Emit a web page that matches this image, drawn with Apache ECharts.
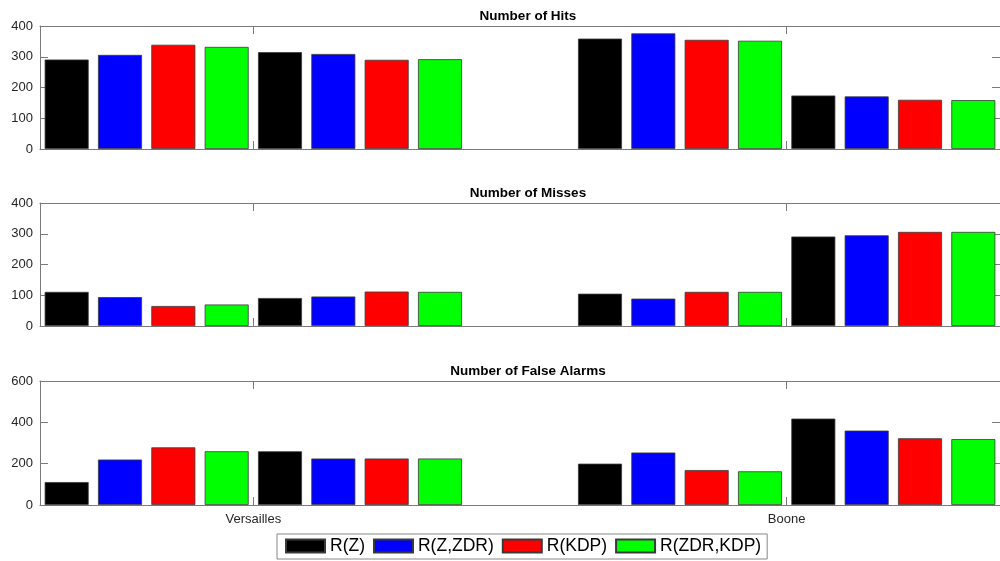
<!DOCTYPE html>
<html>
<head>
<meta charset="utf-8">
<script src="https://cdn.jsdelivr.net/npm/echarts@6/dist/echarts.min.js"></script>
<style>
  html, body { margin: 0; padding: 0; background: #fff; }
  #chart { width: 1000px; height: 561px; }
</style>
</head>
<body>
<div id="chart"></div>
<script>
// Sites shown on the x axis and where their labels sit (slot units)
const sites = ['Versailles', 'Boone'];
const siteTicks = [3.5, 13.5];
// First slot of each block of four bars (two blocks per site)
const blockStarts = [0, 4, 10, 14];

const methods = ['R(Z)', 'R(Z,ZDR)', 'R(KDP)', 'R(ZDR,KDP)'];
const colors = ['#000000', '#0000ff', '#ff0000', '#00ff00'];

const panelTitles = ['Number of Hits', 'Number of Misses', 'Number of False Alarms'];

// Values per method, one entry per block
const hitsRZ = [291, 315, 359, 174];
const hitsRZZDR = [306, 309, 376, 171];
const hitsRKDP = [339, 290, 355, 160];
const hitsRZDRKDP = [332, 292, 352, 159];

const missesRZ = [111, 91, 105, 291];
const missesRZZDR = [94, 96, 89, 295];
const missesRKDP = [65, 112, 111, 306];
const missesRZDRKDP = [70, 111, 111, 306];

const falseRZ = [111, 260, 200, 418];
const falseRZZDR = [220, 225, 254, 360];
const falseRKDP = [279, 225, 169, 323];
const falseRZDRKDP = [260, 225, 163, 319];

const yMax = [400, 400, 600];
const yStep = [100, 100, 200];

const panelValues = [
  [hitsRZ, hitsRZZDR, hitsRKDP, hitsRZDRKDP],
  [missesRZ, missesRZZDR, missesRKDP, missesRZDRKDP],
  [falseRZ, falseRZZDR, falseRKDP, falseRZDRKDP]
];

const FONT = '"Liberation Sans", Arial, Helvetica, sans-serif';
const AXIS_COLOR = '#7a7a7a';
const TEXT_COLOR = '#262626';

// Plot boxes
const boxes = [
  { top: 26, height: 123 },
  { top: 203, height: 123 },
  { top: 381, height: 124 }
];

const grid = [], xAxis = [], yAxis = [], series = [], title = [];

boxes.forEach((b, p) => {
  grid.push({ left: 40, width: 967, top: b.top, height: b.height });

  title.push({
    text: panelTitles[p],
    left: 523, top: b.top - 22, textAlign: 'center',
    textStyle: { fontFamily: FONT, fontSize: 13.5, fontWeight: 'bold', color: '#000' }
  });

  const tickCommon = { show: true, inside: true, length: 8, lineStyle: { color: AXIS_COLOR } };
  const lineCommon = { show: true, onZero: false, lineStyle: { color: AXIS_COLOR } };

  // bottom x axis
  xAxis.push({
    type: 'value', gridIndex: p, min: -0.5, max: 17.5, position: 'bottom',
    axisLine: lineCommon,
    axisTick: Object.assign({ customValues: siteTicks }, tickCommon),
    axisLabel: {
      show: p === 2, customValues: siteTicks, margin: 8,
      fontFamily: FONT, fontSize: 13, color: TEXT_COLOR,
      formatter: v => sites[siteTicks.indexOf(v)] || ''
    },
    splitLine: { show: false }
  });
  // top x axis (frame)
  xAxis.push({
    type: 'value', gridIndex: p, min: -0.5, max: 17.5, position: 'top',
    axisLine: lineCommon,
    axisTick: Object.assign({ customValues: siteTicks }, tickCommon),
    axisLabel: { show: false },
    splitLine: { show: false }
  });
  // left y axis
  yAxis.push({
    type: 'value', gridIndex: p, min: 0, max: yMax[p], interval: yStep[p], position: 'left',
    axisLine: lineCommon,
    axisTick: tickCommon,
    axisLabel: { margin: 7, fontFamily: FONT, fontSize: 13, color: TEXT_COLOR },
    splitLine: { show: false }
  });
  // right y axis (frame)
  yAxis.push({
    type: 'value', gridIndex: p, min: 0, max: yMax[p], interval: yStep[p], position: 'right',
    axisLine: lineCommon,
    axisTick: tickCommon,
    axisLabel: { show: false },
    splitLine: { show: false }
  });

  methods.forEach((m, k) => {
    series.push({
      type: 'bar', name: m,
      xAxisIndex: p * 2, yAxisIndex: p * 2,
      barWidth: 44, barGap: '-100%',
      itemStyle: { color: colors[k], borderColor: '#3a3a3a', borderWidth: 0.8 },
      emphasis: { disabled: true },
      data: panelValues[p][k].map((v, i) => [blockStarts[i] + k, v])
    });
  });
});

const chart = echarts.init(document.getElementById('chart'), null, { renderer: 'canvas' });
chart.setOption({
  animation: false,
  backgroundColor: '#fff',
  title,
  grid, xAxis, yAxis, series,
  legend: {
    data: methods,
    left: 277, top: 534,
    orient: 'horizontal',
    itemWidth: 39, itemHeight: 13, itemGap: 8,
    padding: [3, 6, 4, 8],
    borderColor: '#888', borderWidth: 1,
    backgroundColor: '#fff',
    icon: 'rect',
    selectedMode: false,
    textStyle: { fontFamily: FONT, fontSize: 17.5, color: '#000' }
  }
});
</script>
</body>
</html>
